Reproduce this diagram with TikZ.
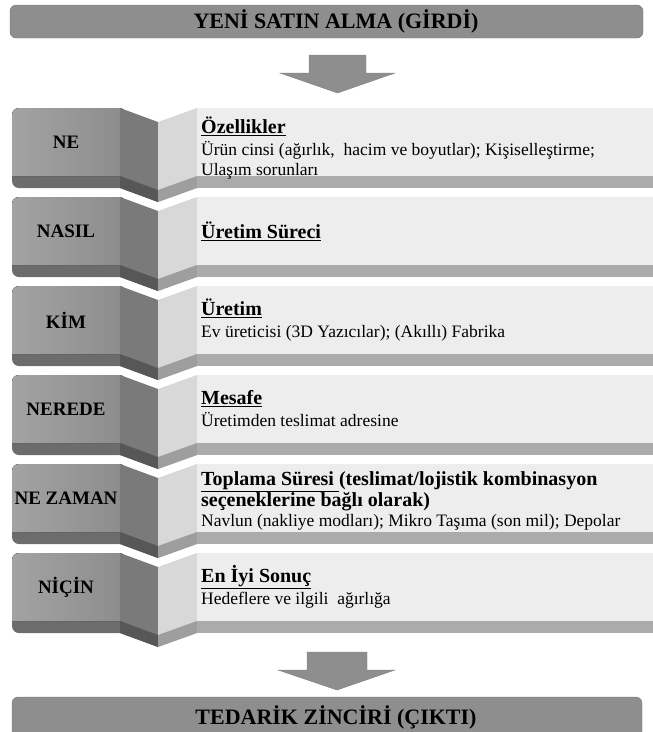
\documentclass[tikz,border=0pt]{standalone}
\usepackage{fontspec}
\setmainfont{Liberation Serif}
\usepackage{xcolor}
\usetikzlibrary{positioning}

\definecolor{bargray}{HTML}{8E8E8E}
\definecolor{tabgray}{HTML}{8C8C8C}
\definecolor{tabband}{HTML}{6C6C6C}
\definecolor{folddark}{HTML}{7A7A7A}
\definecolor{folddarkband}{HTML}{575757}
\definecolor{foldlight}{HTML}{D8D8D8}
\definecolor{foldlightband}{HTML}{9E9E9E}
\definecolor{panel}{HTML}{EDEDED}
\definecolor{panelband}{HTML}{ABABAB}

\newcommand{\hdfont}{\fontsize{20}{23}\selectfont\bfseries}
\newcommand{\hd}[1]{{\hdfont\underline{#1}}}

\begin{document}
\begin{tikzpicture}[x=1pt, y=-1pt,
    bar/.style={draw=bargray!85!black, fill=bargray, rounded corners=6pt},
    bartext/.style={font=\fontsize{22}{26}\selectfont\bfseries},
    bigarrow/.style={fill=bargray, draw=bargray!90!black},
    tablabel/.style={font=\fontsize{19}{22}\selectfont\bfseries},
    rowtext/.style={anchor=west, align=left, inner sep=0pt, font=\fontsize{17.5}{20}\selectfont}
]
\path[use as bounding box, clip] (0,0) rectangle (653,732);

% input bar
\draw[bar] (10,5) rectangle (643,38);
\node[bartext] (input) at (336,21.5) {YENİ SATIN ALMA (GİRDİ)};
\fill[bigarrow] (309,55) -- (366,55) -- (366,73) -- (395,73) -- (337.5,93) -- (280,73) -- (309,73) -- cycle;

% rows
\foreach \ry/\dy/\nm/\lab/\txt in {
    108/40/ne/NE/{\hd{Özellikler}\\[2pt] Ürün cinsi (ağırlık,\ \ hacim ve boyutlar); Kişiselleştirme;\\ Ulaşım\ sorunları},
    197/34/nasil/NASIL/{\hd{Üretim Süreci}},
    286/34/kim/KİM/{\hd{Üretim}\\[2pt] Ev üreticisi (3D Yazıcılar);\ (Akıllı)\ Fabrika},
    375/34/nerede/NEREDE/{\hd{Mesafe}\\[2pt] Üretimden teslimat adresine},
    464/37/nezaman/NE ZAMAN/{{\hdfont\underline{Toplama\ Süresi\ }(teslimat/lojistik kombinasyon}\\ {\hdfont seçeneklerine\ bağlı olarak)}\\ Navlun (nakliye modları); Mikro Taşıma (son mil); Depolar},
    553/34/nicin/NİÇİN/{\hd{En İyi Sonuç}\\[2pt] Hedeflere ve ilgili\ \ ağırlığa}} {
  % left tab
  \fill[tabband, rounded corners=7pt] (12,\ry) rectangle (126,\ry+80);
  \fill[left color=tabgray!80!white, right color=tabgray] (126,\ry+68) -- (12,\ry+68) [rounded corners=7pt] -- (12,\ry) -- (126,\ry) -- cycle;
  % fold
  \fill[folddark] (120,\ry) -- (158,\ry+14) -- (158,\ry+94) -- (120,\ry+80) -- cycle;
  \fill[folddarkband] (120,\ry+68) -- (158,\ry+82) -- (158,\ry+94) -- (120,\ry+80) -- cycle;
  \fill[foldlight] (158,\ry+14) -- (197,\ry) -- (197,\ry+80) -- (158,\ry+94) -- cycle;
  \fill[foldlightband] (158,\ry+82) -- (197,\ry+68) -- (197,\ry+80) -- (158,\ry+94) -- cycle;
  % right panel
  \fill[panel] (197,\ry) rectangle (653,\ry+68);
  \fill[panelband] (197,\ry+68) rectangle (653,\ry+80);
  % texts
  \node[tablabel] (\nm) at (66,\ry+34) {\lab};
  \node[rowtext] (\nm-text) at (201,\ry+\dy) {\txt};
}

% output bar
\fill[bigarrow] (307,652) -- (367,652) -- (367,670) -- (395,670) -- (337,690) -- (278,670) -- (307,670) -- cycle;
\draw[bar] (12,697) rectangle (642,750);
\node[bartext] (output) at (336,717) {TEDARİK ZİNCİRİ (ÇIKTI)};
\end{tikzpicture}
\end{document}
